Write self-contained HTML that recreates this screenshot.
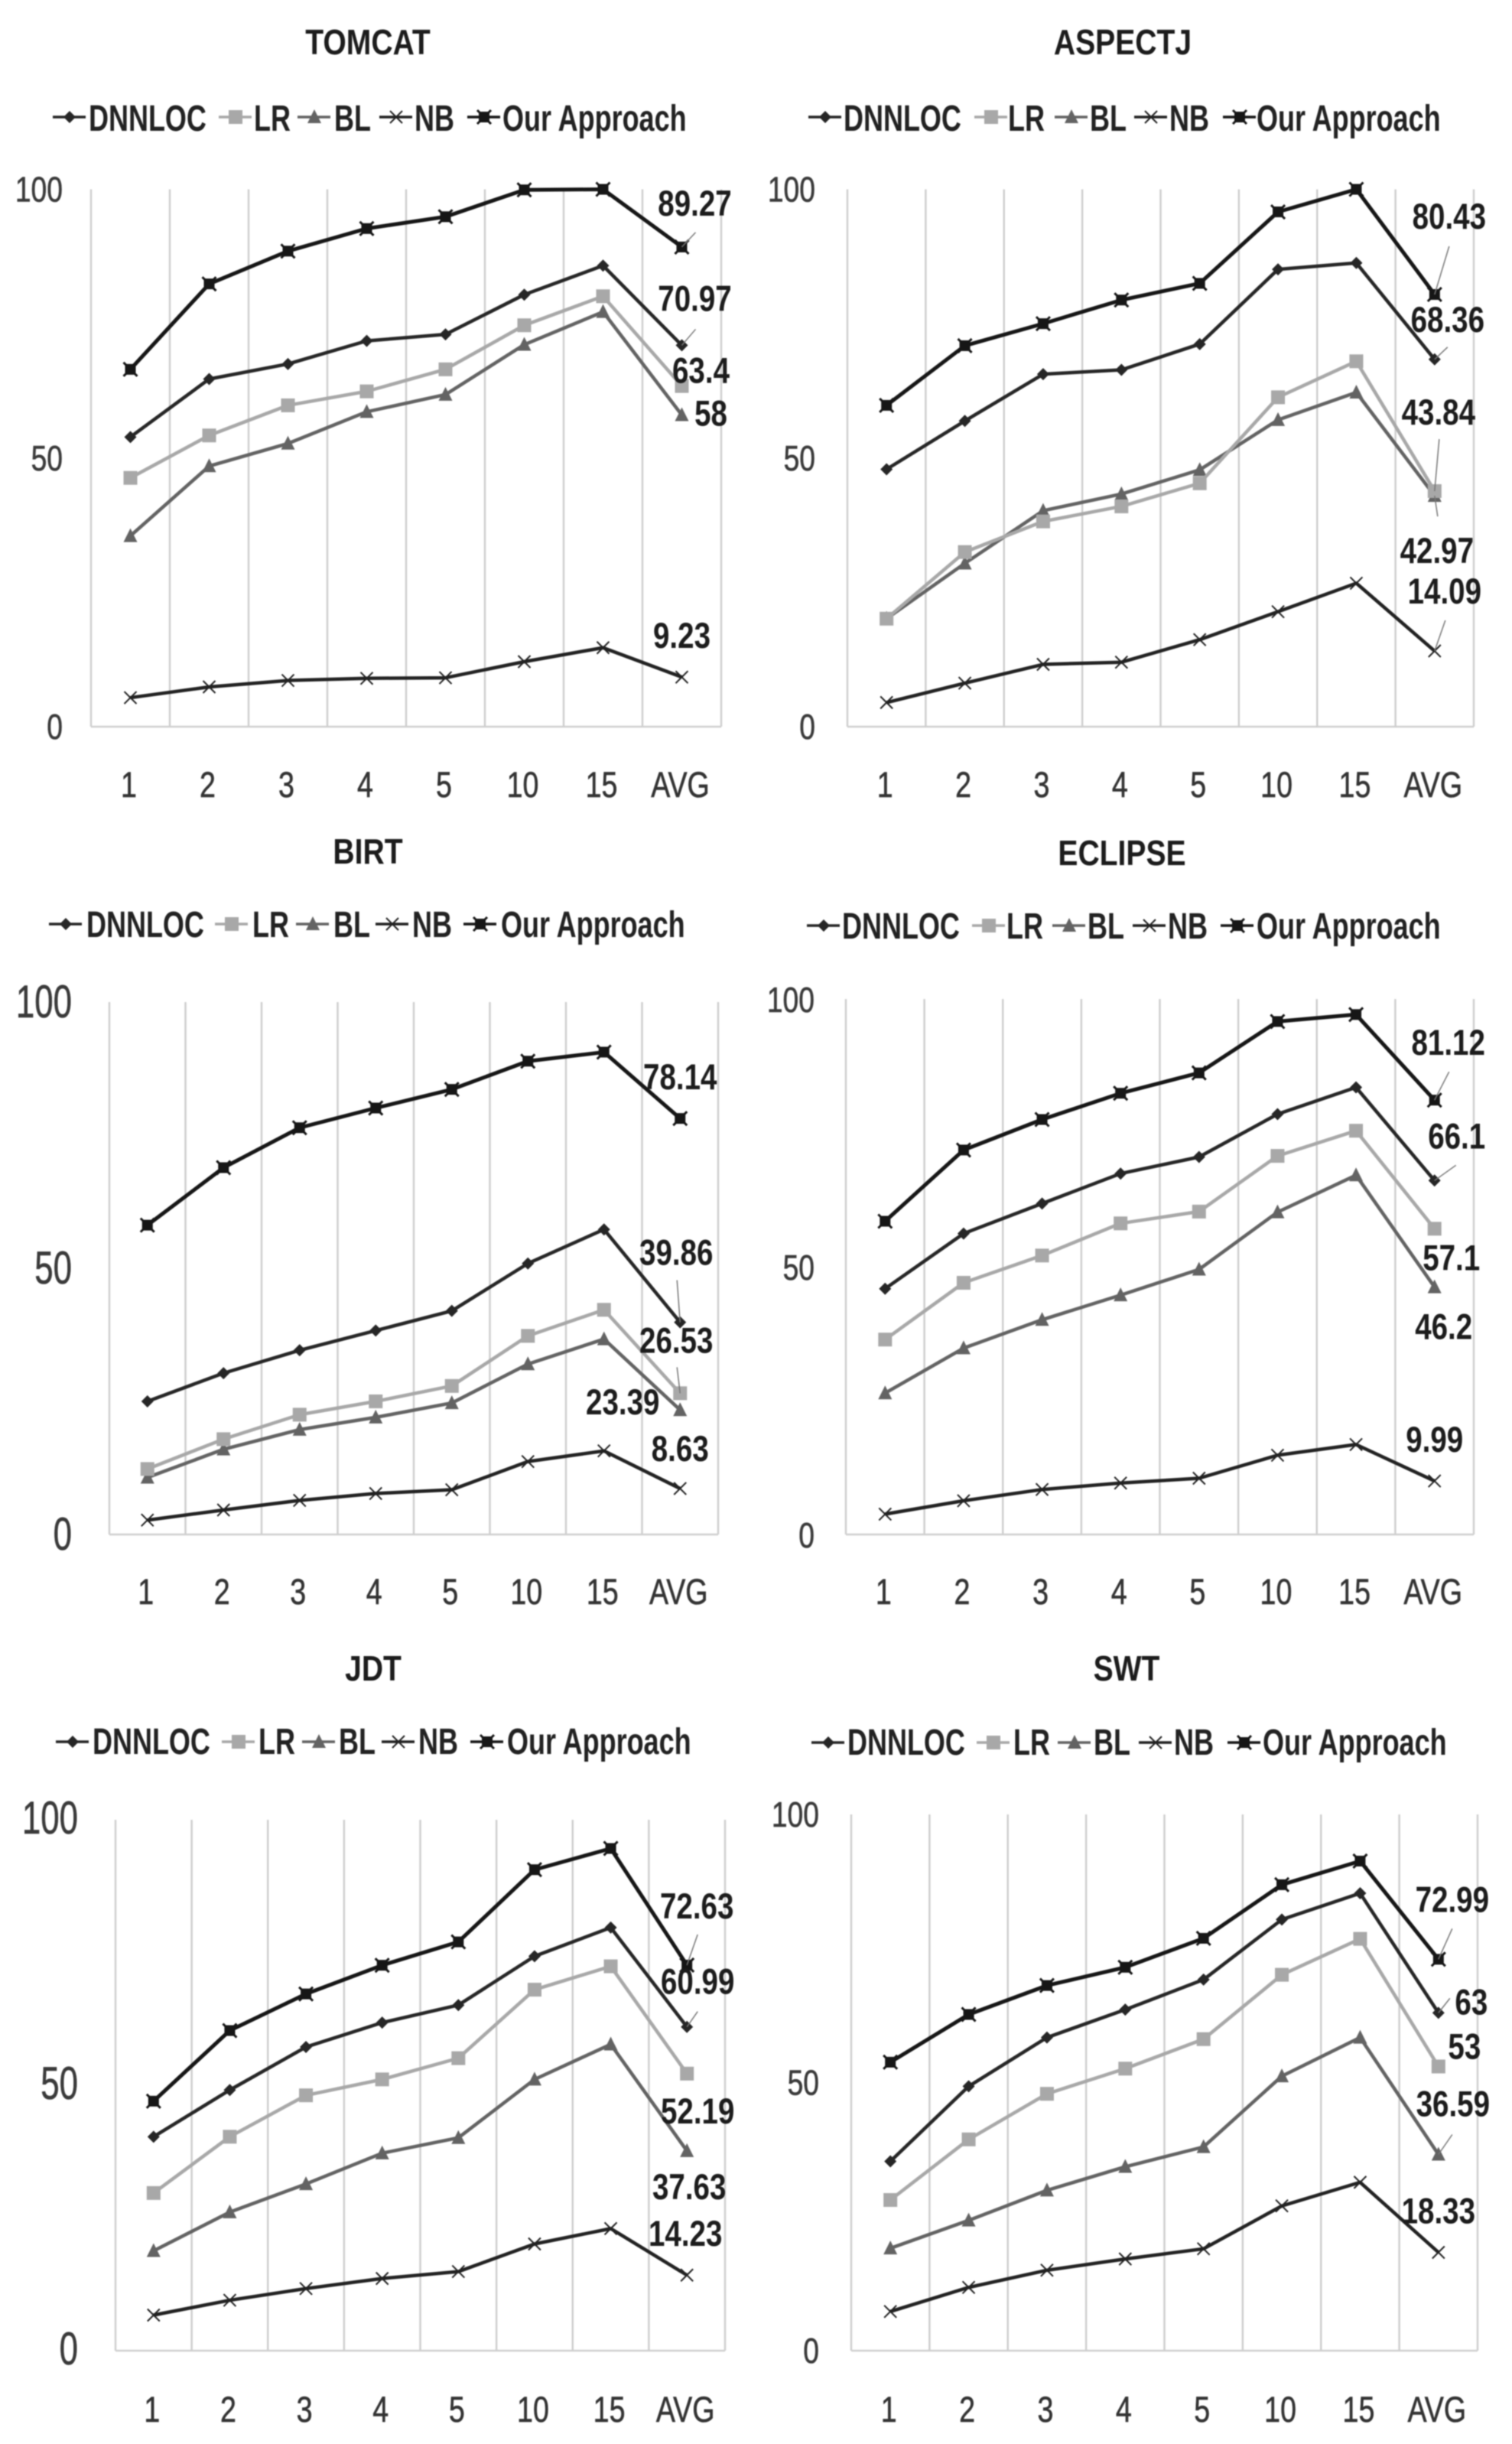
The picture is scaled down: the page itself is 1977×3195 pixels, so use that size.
<!DOCTYPE html>
<html lang="en">
<head>
<meta charset="utf-8">
<title>Top-k accuracy charts</title>
<style>
html,body{margin:0;padding:0;background:#fff;width:1977px;height:3195px;overflow:hidden}
svg{display:block;filter:blur(0.9px)}
text{font-family:"Liberation Sans",sans-serif}
</style>
</head>
<body>
<svg id="root" xmlns="http://www.w3.org/2000/svg" width="1977" height="3195" viewBox="0 0 1977 3195"></svg>
<script>
const categories = ['1', '2', '3', '4', '5', '10', '15', 'AVG'];
const yTickValues = [0, 50, 100];
const seriesNames = ['DNNLOC', 'LR', 'BL', 'NB', 'Our Approach'];

const tomcatDnnloc = [53.9, 64.7, 67.5, 71.8, 73.0, 80.4, 85.8, 70.97];
const tomcatLr = [46.3, 54.2, 59.8, 62.4, 66.5, 74.7, 80.1, 63.4];
const tomcatBl = [35.5, 48.5, 52.7, 58.6, 61.8, 71.1, 77.2, 58];
const tomcatNb = [5.4, 7.4, 8.6, 9.0, 9.1, 12.1, 14.7, 9.23];
const tomcatOurs = [66.5, 82.4, 88.5, 92.7, 94.9, 99.9, 100, 89.27];

const aspectjDnnloc = [47.9, 56.9, 65.6, 66.4, 71.2, 85.1, 86.3, 68.36];
const aspectjLr = [20.1, 32.5, 38.2, 41, 45.3, 61.3, 68, 43.84];
const aspectjBl = [20.1, 30.4, 40.2, 43.3, 47.8, 57.1, 62.2, 42.97];
const aspectjNb = [4.5, 8.1, 11.6, 12, 16.2, 21.4, 26.7, 14.09];
const aspectjOurs = [59.8, 70.9, 75, 79.4, 82.5, 95.8, 100, 80.43];

const birtDnnloc = [25, 30.3, 34.6, 38.3, 42, 50.9, 57.3, 39.86];
const birtLr = [12.3, 17.9, 22.5, 25, 27.9, 37.3, 42.2, 26.53];
const birtBl = [10.7, 16, 19.7, 22, 24.7, 32, 36.7, 23.39];
const birtNb = [2.7, 4.6, 6.4, 7.7, 8.4, 13.7, 15.7, 8.63];
const birtOurs = [58.1, 68.9, 76.4, 80.1, 83.6, 88.9, 90.6, 78.14];

const eclipseDnnloc = [45.9, 56.2, 61.8, 67.4, 70.5, 78.5, 83.5, 66.1];
const eclipseLr = [36.4, 47, 52.1, 58.1, 60.3, 70.7, 75.4, 57.1];
const eclipseBl = [26.4, 34.8, 40.1, 44.7, 49.5, 60.2, 67.1, 46.2];
const eclipseNb = [3.8, 6.3, 8.4, 9.6, 10.5, 14.8, 16.8, 9.99];
const eclipseOurs = [58.5, 71.8, 77.5, 82.4, 86.2, 95.8, 97.1, 81.12];

const jdtDnnloc = [40.3, 49.1, 57.2, 61.8, 65.1, 74.3, 79.7, 60.99];
const jdtLr = [29.7, 40.3, 48.1, 51.1, 55.1, 68, 72.4, 52.19];
const jdtBl = [18.8, 26.1, 31.4, 37.2, 40.1, 51.1, 57.7, 37.63];
const jdtNb = [6.7, 9.5, 11.7, 13.6, 14.9, 20.1, 23, 14.23];
const jdtOurs = [47, 60.3, 67.2, 72.6, 77, 90.6, 94.6, 72.63];

const swtDnnloc = [35.3, 49.3, 58.4, 63.6, 69.2, 80.4, 85.3, 63];
const swtLr = [28.1, 39.4, 47.9, 52.6, 58.1, 70.1, 76.8, 53];
const swtBl = [19.1, 24.3, 29.9, 34.3, 38, 51.2, 58.4, 36.59];
const swtNb = [7.3, 11.8, 15, 17.1, 19, 27, 31.4, 18.33];
const swtOurs = [53.8, 62.7, 68.1, 71.5, 76.9, 86.9, 91.3, 72.99];

const panels = [
  {title: 'TOMCAT', series: [tomcatDnnloc, tomcatLr, tomcatBl, tomcatNb, tomcatOurs]},
  {title: 'ASPECTJ', series: [aspectjDnnloc, aspectjLr, aspectjBl, aspectjNb, aspectjOurs]},
  {title: 'BIRT', series: [birtDnnloc, birtLr, birtBl, birtNb, birtOurs]},
  {title: 'ECLIPSE', series: [eclipseDnnloc, eclipseLr, eclipseBl, eclipseNb, eclipseOurs]},
  {title: 'JDT', series: [jdtDnnloc, jdtLr, jdtBl, jdtNb, jdtOurs]},
  {title: 'SWT', series: [swtDnnloc, swtLr, swtBl, swtNb, swtOurs]}
];

/* Layout only: frame geometry, legend placement, and each value label's offset
   (and optional leader end) relative to its AVG data point, in series order. */
const layouts = [
  {left:119, right:943, top:247.5, bottom:950, tickRight:82, tickDy:16, tickSize:46, tickSx:.81, xBase:1042, titleX:481, titleY:71,
   legendY:153, legendBase:171, legendLine:[69,286,389,496,611], legendText:[116,332,437,542,657],
   labels:[[17,-45,18,-21],[25,-4],[38,14],[0,-38],[17,-41,18,-19]]},
  {left:1108, right:1927, top:247.5, bottom:950, tickRight:1066, tickDy:16, tickSize:46, tickSx:.81, xBase:1042, titleX:1468, titleY:71,
   legendY:153, legendBase:171, legendLine:[1057,1274,1379,1483,1599], legendText:[1103,1318,1425,1529,1643],
   labels:[[17,-36,17,-16],[5,-87,6,-68],[3,88,4,27],[13,-62,14,-40],[19,-86,19,-63]]},
  {left:143, right:939, top:1310, bottom:2006, tickRight:94, tickDy:20, tickSize:60, tickSx:.73, xBase:2097, titleX:481, titleY:1129,
   legendY:1208, legendBase:1225, legendLine:[64,281,387,491,606], legendText:[113,330,436,539,655],
   labels:[[-5,-75,-4,-55],[-5,-53,-4,-34],[-75,6],[0,-36],[0,-38]]},
  {left:1106, right:1927, top:1306, bottom:2006, tickRight:1065, tickDy:17, tickSize:46, tickSx:.81, xBase:2097, titleX:1467, titleY:1131,
   legendY:1210, legendBase:1227, legendLine:[1055,1271,1376,1481,1596], legendText:[1101,1316,1422,1527,1643],
   labels:[[29,-42,28,-20],[22,54],[12,68],[0,-38],[18,-59,19,-37]]},
  {left:151, right:948, top:2379, bottom:3073, tickRight:102, tickDy:18, tickSize:60, tickSx:.73, xBase:3166, titleX:488, titleY:2197,
   legendY:2277, legendBase:2293, legendLine:[73,290,395,499,615], legendText:[121,338,443,547,663],
   labels:[[14,-43,14,-20],[14,65],[3,63],[-2,-38],[13,-61,14,-40]]},
  {left:1113, right:1932, top:2372, bottom:3073, tickRight:1071, tickDy:16, tickSize:46, tickSx:.81, xBase:3166, titleX:1473, titleY:2197,
   legendY:2278, legendBase:2294, legendLine:[1061,1277,1383,1489,1605], legendText:[1108,1325,1430,1535,1651],
   labels:[[43,2,15,-19],[34,-10],[19,-50,18,-26],[0,-38],[18,-62,18,-40]]}
];

const seriesStyles = [
  {color:'#262626', width:4.5, marker:'diamond'},
  {color:'#a8a8a8', width:4.5, marker:'square'},
  {color:'#636363', width:4.5, marker:'triangle'},
  {color:'#222222', width:4.5, marker:'cross'},
  {color:'#161616', width:5, marker:'star'}
];

const SVG_NS = 'http://www.w3.org/2000/svg';
const root = document.getElementById('root');

function make(parent, tag, attrs) {
  const el = document.createElementNS(SVG_NS, tag);
  for (const k in attrs) el.setAttribute(k, attrs[k]);
  parent.appendChild(el);
  return el;
}

function makeText(parent, str, x, y, size, sx, weight, anchor, fill) {
  const el = make(parent, 'text', {
    transform: 'translate(' + x + ' ' + y + ') scale(' + sx + ' 1)',
    'font-size': size, 'font-weight': weight, 'text-anchor': anchor, fill: fill
  });
  el.textContent = str;
  return el;
}

function xScale(lay, i) {
  return lay.left + (lay.right - lay.left) * (i + 0.5) / categories.length;
}

function yScale(lay, v) {
  return lay.bottom - (lay.bottom - lay.top) * v / 100;
}

function drawMarker(parent, kind, x, y, color) {
  const g = make(parent, 'g', {});
  if (kind === 'diamond') {
    make(g, 'polygon', {points: [x, y - 8, x + 8, y, x, y + 8, x - 8, y].join(' '), fill: color});
  } else if (kind === 'square') {
    make(g, 'rect', {x: x - 9, y: y - 9, width: 18, height: 18, fill: color});
  } else if (kind === 'triangle') {
    make(g, 'polygon', {points: [x, y - 10, x + 9, y + 8, x - 9, y + 8].join(' '), fill: color});
  } else if (kind === 'cross') {
    make(g, 'path', {d: 'M' + (x - 8) + ' ' + (y - 8) + 'L' + (x + 8) + ' ' + (y + 8) + 'M' + (x + 8) + ' ' + (y - 8) + 'L' + (x - 8) + ' ' + (y + 8), stroke: color, 'stroke-width': 2, fill: 'none'});
  } else {
    make(g, 'rect', {x: x - 7, y: y - 7, width: 14, height: 14, fill: color});
    make(g, 'path', {d: 'M' + (x - 9) + ' ' + (y - 9) + 'L' + (x + 9) + ' ' + (y + 9) + 'M' + (x + 9) + ' ' + (y - 9) + 'L' + (x - 9) + ' ' + (y + 9), stroke: color, 'stroke-width': 3, fill: 'none'});
  }
  return g;
}

panels.forEach(function (panel, p) {
  const lay = layouts[p];
  const slug = panel.title.toLowerCase();

  const group = make(root, 'g', {});
  
  

  const title = makeText(group, panel.title, lay.titleX, lay.titleY, 46, .85, 'bold', 'middle', '#1c1c1c');
  
  

  const legend = make(group, 'g', {});
  
  
  seriesNames.forEach(function (name, s) {
    const st = seriesStyles[s];
    const entry = make(legend, 'g', {});
    
    
    const x0 = lay.legendLine[s];
    make(entry, 'line', {x1: x0, y1: lay.legendY, x2: x0 + 43, y2: lay.legendY, stroke: st.color, 'stroke-width': 3.5});
    drawMarker(entry, st.marker, x0 + 22, lay.legendY, st.color);
    makeText(entry, name, lay.legendText[s], lay.legendBase, 48, .75, 'bold', 'start', '#222');
  });

  const grid = make(group, 'g', {});
  
  
  for (let i = 0; i <= categories.length; i++) {
    const gx = lay.left + (lay.right - lay.left) * i / categories.length;
    make(grid, 'line', {x1: gx, y1: lay.top, x2: gx, y2: lay.bottom, stroke: '#cfcfcf', 'stroke-width': 2.5});
  }

  const xAxis = make(group, 'g', {});
  
  
  make(xAxis, 'line', {x1: lay.left, y1: lay.bottom, x2: lay.right, y2: lay.bottom, stroke: '#cfcfcf', 'stroke-width': 2.5});
  categories.forEach(function (c, i) {
    const xl = makeText(xAxis, c, xScale(lay, i) - 2, lay.xBase, 47, .8, 'normal', 'middle', '#333');
    xl.setAttribute('stroke', '#333');
    xl.setAttribute('stroke-width', '0.6');
  });

  const yAxis = make(group, 'g', {});
  
  
  yTickValues.forEach(function (t) {
    const yl = makeText(yAxis, String(t), lay.tickRight, yScale(lay, t) + lay.tickDy, lay.tickSize, lay.tickSx, 'normal', 'end', '#3a3a3a');
    yl.setAttribute('stroke', '#3a3a3a');
    yl.setAttribute('stroke-width', '0.6');
  });

  [3, 2, 1, 0, 4].forEach(function (s) {
    const st = seriesStyles[s];
    const values = panel.series[s];
    const line = make(group, 'g', {});
    
    
    const pts = values.map(function (v, i) { return xScale(lay, i) + ',' + yScale(lay, v); }).join(' ');
    make(line, 'polyline', {points: pts, fill: 'none', stroke: st.color, 'stroke-width': st.width, 'stroke-linejoin': 'round'});
    values.forEach(function (v, i) {
      drawMarker(line, st.marker, xScale(lay, i), yScale(lay, v), st.color);
    });
  });

  seriesNames.forEach(function (name, s) {
    const values = panel.series[s];
    const last = values.length - 1;
    const px = xScale(lay, last);
    const py = yScale(lay, values[last]);
    const off = lay.labels[s];
    if (off.length > 2) {
      const leader = make(group, 'line', {x1: px, y1: py, x2: px + off[2], y2: py + off[3], stroke: '#777', 'stroke-width': 1.5});
      
      
    }
    const label = makeText(group, String(values[last]), px + off[0], py + off[1], 47, .82, 'bold', 'middle', '#1c1c1c');
    
    
  });
});
</script>
</body>
</html>
